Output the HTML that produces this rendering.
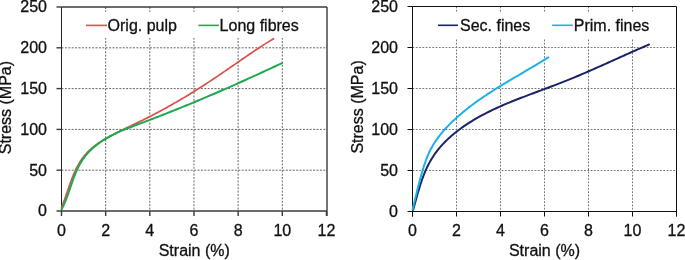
<!DOCTYPE html>
<html><head><meta charset="utf-8"><style>
html,body{margin:0;padding:0;background:#fff;}
svg{display:block;will-change:transform;filter:blur(0.3px);}
text{font-family:"Liberation Sans",sans-serif;font-size:16px;fill:#111;stroke:#111;stroke-width:0.3px;}
</style></head><body>
<svg width="685" height="260" viewBox="0 0 685 260">
<rect width="685" height="260" fill="#fff"/>
<line x1="105.66" y1="7.0" x2="105.66" y2="211.0" stroke="#666" stroke-width="1" stroke-dasharray="2 1.4"/>
<line x1="149.82" y1="7.0" x2="149.82" y2="211.0" stroke="#666" stroke-width="1" stroke-dasharray="2 1.4"/>
<line x1="193.98" y1="7.0" x2="193.98" y2="211.0" stroke="#666" stroke-width="1" stroke-dasharray="2 1.4"/>
<line x1="238.14" y1="7.0" x2="238.14" y2="211.0" stroke="#666" stroke-width="1" stroke-dasharray="2 1.4"/>
<line x1="282.30" y1="7.0" x2="282.30" y2="211.0" stroke="#666" stroke-width="1" stroke-dasharray="2 1.4"/>
<line x1="61.5" y1="170.20" x2="327.0" y2="170.20" stroke="#666" stroke-width="1" stroke-dasharray="2 1.4"/>
<line x1="61.5" y1="129.40" x2="327.0" y2="129.40" stroke="#666" stroke-width="1" stroke-dasharray="2 1.4"/>
<line x1="61.5" y1="88.60" x2="327.0" y2="88.60" stroke="#666" stroke-width="1" stroke-dasharray="2 1.4"/>
<line x1="61.5" y1="47.80" x2="327.0" y2="47.80" stroke="#666" stroke-width="1" stroke-dasharray="2 1.4"/>
<line x1="61.5" y1="7.0" x2="327.0" y2="7.0" stroke="#3a3a3a" stroke-width="1.4"/>
<line x1="61.5" y1="211.0" x2="327.0" y2="211.0" stroke="#3a3a3a" stroke-width="1.4"/>
<line x1="327.0" y1="7.0" x2="327.0" y2="216.0" stroke="#3a3a3a" stroke-width="1.4"/>
<line x1="61.5" y1="7.0" x2="61.5" y2="216.0" stroke="#222" stroke-width="1"/>
<line x1="56.5" y1="211.00" x2="61.5" y2="211.00" stroke="#3a3a3a" stroke-width="1.4"/>
<text x="47.0" y="216.40" text-anchor="end">0</text>
<line x1="56.5" y1="170.20" x2="61.5" y2="170.20" stroke="#3a3a3a" stroke-width="1.4"/>
<text x="47.0" y="175.60" text-anchor="end">50</text>
<line x1="56.5" y1="129.40" x2="61.5" y2="129.40" stroke="#3a3a3a" stroke-width="1.4"/>
<text x="47.0" y="134.80" text-anchor="end">100</text>
<line x1="56.5" y1="88.60" x2="61.5" y2="88.60" stroke="#3a3a3a" stroke-width="1.4"/>
<text x="47.0" y="94.00" text-anchor="end">150</text>
<line x1="56.5" y1="47.80" x2="61.5" y2="47.80" stroke="#3a3a3a" stroke-width="1.4"/>
<text x="47.0" y="53.20" text-anchor="end">200</text>
<line x1="56.5" y1="7.00" x2="61.5" y2="7.00" stroke="#3a3a3a" stroke-width="1.4"/>
<text x="47.0" y="12.40" text-anchor="end">250</text>
<line x1="61.50" y1="211.0" x2="61.50" y2="216.0" stroke="#3a3a3a" stroke-width="1.4"/>
<text x="61.50" y="236.0" text-anchor="middle">0</text>
<line x1="105.66" y1="211.0" x2="105.66" y2="216.0" stroke="#3a3a3a" stroke-width="1.4"/>
<text x="105.66" y="236.0" text-anchor="middle">2</text>
<line x1="149.82" y1="211.0" x2="149.82" y2="216.0" stroke="#3a3a3a" stroke-width="1.4"/>
<text x="149.82" y="236.0" text-anchor="middle">4</text>
<line x1="193.98" y1="211.0" x2="193.98" y2="216.0" stroke="#3a3a3a" stroke-width="1.4"/>
<text x="193.98" y="236.0" text-anchor="middle">6</text>
<line x1="238.14" y1="211.0" x2="238.14" y2="216.0" stroke="#3a3a3a" stroke-width="1.4"/>
<text x="238.14" y="236.0" text-anchor="middle">8</text>
<line x1="282.30" y1="211.0" x2="282.30" y2="216.0" stroke="#3a3a3a" stroke-width="1.4"/>
<text x="282.30" y="236.0" text-anchor="middle">10</text>
<line x1="326.46" y1="211.0" x2="326.46" y2="216.0" stroke="#3a3a3a" stroke-width="1.4"/>
<text x="326.46" y="236.0" text-anchor="middle">12</text>
<text x="194.25" y="256.0" text-anchor="middle">Strain (%)</text>
<text x="11.5" y="107.6" text-anchor="middle" transform="rotate(-90 11.5 107.6)">Stress (MPa)</text>
<line x1="456.50" y1="6.5" x2="456.50" y2="211.5" stroke="#777" stroke-width="1" stroke-dasharray="1.8 1.5"/>
<line x1="500.50" y1="6.5" x2="500.50" y2="211.5" stroke="#777" stroke-width="1" stroke-dasharray="1.8 1.5"/>
<line x1="544.50" y1="6.5" x2="544.50" y2="211.5" stroke="#777" stroke-width="1" stroke-dasharray="1.8 1.5"/>
<line x1="588.50" y1="6.5" x2="588.50" y2="211.5" stroke="#777" stroke-width="1" stroke-dasharray="1.8 1.5"/>
<line x1="632.50" y1="6.5" x2="632.50" y2="211.5" stroke="#777" stroke-width="1" stroke-dasharray="1.8 1.5"/>
<line x1="412.5" y1="170.50" x2="676.5" y2="170.50" stroke="#777" stroke-width="1" stroke-dasharray="1.8 1.5"/>
<line x1="412.5" y1="129.50" x2="676.5" y2="129.50" stroke="#777" stroke-width="1" stroke-dasharray="1.8 1.5"/>
<line x1="412.5" y1="88.50" x2="676.5" y2="88.50" stroke="#777" stroke-width="1" stroke-dasharray="1.8 1.5"/>
<line x1="412.5" y1="47.50" x2="676.5" y2="47.50" stroke="#777" stroke-width="1" stroke-dasharray="1.8 1.5"/>
<line x1="412.5" y1="6.5" x2="676.5" y2="6.5" stroke="#111" stroke-width="1"/>
<line x1="412.5" y1="211.5" x2="676.5" y2="211.5" stroke="#111" stroke-width="1"/>
<line x1="676.5" y1="6.5" x2="676.5" y2="216.5" stroke="#111" stroke-width="1"/>
<line x1="412.5" y1="6.5" x2="412.5" y2="216.5" stroke="#111" stroke-width="1"/>
<line x1="407.5" y1="211.50" x2="412.5" y2="211.50" stroke="#111" stroke-width="1"/>
<text x="398.0" y="216.80" text-anchor="end">0</text>
<line x1="407.5" y1="170.50" x2="412.5" y2="170.50" stroke="#111" stroke-width="1"/>
<text x="398.0" y="175.80" text-anchor="end">50</text>
<line x1="407.5" y1="129.50" x2="412.5" y2="129.50" stroke="#111" stroke-width="1"/>
<text x="398.0" y="134.80" text-anchor="end">100</text>
<line x1="407.5" y1="88.50" x2="412.5" y2="88.50" stroke="#111" stroke-width="1"/>
<text x="398.0" y="93.80" text-anchor="end">150</text>
<line x1="407.5" y1="47.50" x2="412.5" y2="47.50" stroke="#111" stroke-width="1"/>
<text x="398.0" y="52.80" text-anchor="end">200</text>
<line x1="407.5" y1="6.50" x2="412.5" y2="6.50" stroke="#111" stroke-width="1"/>
<text x="398.0" y="11.80" text-anchor="end">250</text>
<line x1="412.50" y1="211.5" x2="412.50" y2="216.5" stroke="#111" stroke-width="1"/>
<text x="412.50" y="236.0" text-anchor="middle">0</text>
<line x1="456.50" y1="211.5" x2="456.50" y2="216.5" stroke="#111" stroke-width="1"/>
<text x="456.50" y="236.0" text-anchor="middle">2</text>
<line x1="500.50" y1="211.5" x2="500.50" y2="216.5" stroke="#111" stroke-width="1"/>
<text x="500.50" y="236.0" text-anchor="middle">4</text>
<line x1="544.50" y1="211.5" x2="544.50" y2="216.5" stroke="#111" stroke-width="1"/>
<text x="544.50" y="236.0" text-anchor="middle">6</text>
<line x1="588.50" y1="211.5" x2="588.50" y2="216.5" stroke="#111" stroke-width="1"/>
<text x="588.50" y="236.0" text-anchor="middle">8</text>
<line x1="632.50" y1="211.5" x2="632.50" y2="216.5" stroke="#111" stroke-width="1"/>
<text x="632.50" y="236.0" text-anchor="middle">10</text>
<line x1="676.50" y1="211.5" x2="676.50" y2="216.5" stroke="#111" stroke-width="1"/>
<text x="676.50" y="236.0" text-anchor="middle">12</text>
<text x="544.50" y="256.0" text-anchor="middle">Strain (%)</text>
<text x="362.8" y="106.9" text-anchor="middle" transform="rotate(-90 362.8 106.9)">Stress (MPa)</text>

<polyline points="61.43,207.74 62.12,206.06 62.79,204.37 63.45,202.65 64.09,200.92 64.73,199.17 65.35,197.42 65.97,195.64 66.58,193.86 67.20,192.07 67.81,190.28 68.43,188.48 69.05,186.67 69.68,184.87 70.32,183.06 70.98,181.26 71.64,179.46 72.33,177.67 73.04,175.89 73.76,174.13 74.52,172.38 75.30,170.65 76.11,168.94 76.95,167.25 77.83,165.59 78.75,163.96 79.70,162.35 80.70,160.79 81.74,159.25 82.83,157.76 83.97,156.30 85.15,154.88 86.37,153.50 87.63,152.16 88.94,150.85 90.28,149.59 91.66,148.36 93.08,147.17 94.54,146.02 96.04,144.91 97.56,143.83 99.11,142.79 100.69,141.77 102.28,140.78 103.89,139.80 105.52,138.85 107.15,137.92 108.79,136.99 110.45,136.09 112.11,135.19 113.77,134.31 115.44,133.44 117.12,132.57 118.81,131.72 120.50,130.88 122.19,130.04 123.88,129.20 125.58,128.38 127.29,127.55 128.99,126.73 130.69,125.91 132.40,125.10 134.10,124.28 135.81,123.46 137.51,122.64 139.21,121.82 140.91,120.99 142.61,120.16 144.30,119.32 145.99,118.48 147.67,117.63 149.35,116.77 151.03,115.91 152.71,115.05 154.38,114.18 156.05,113.30 157.71,112.42 159.37,111.53 161.03,110.64 162.69,109.74 164.34,108.84 165.99,107.93 167.64,107.02 169.28,106.10 170.92,105.18 172.56,104.25 174.19,103.32 175.82,102.38 177.45,101.44 179.07,100.49 180.70,99.54 182.31,98.58 183.93,97.62 185.54,96.66 187.16,95.69 188.76,94.71 190.37,93.73 191.97,92.75 193.57,91.76 195.17,90.76 196.76,89.77 198.35,88.76 199.94,87.76 201.53,86.75 203.11,85.73 204.70,84.71 206.27,83.69 207.85,82.66 209.42,81.63 211.00,80.60 212.57,79.56 214.13,78.51 215.70,77.47 217.26,76.41 218.82,75.36 220.38,74.30 221.93,73.24 223.49,72.17 225.04,71.11 226.59,70.04 228.14,68.97 229.69,67.89 231.24,66.82 232.79,65.74 234.34,64.67 235.89,63.59 237.44,62.52 238.98,61.45 240.53,60.37 242.08,59.30 243.64,58.23 245.19,57.16 246.74,56.10 248.30,55.03 249.85,53.97 251.41,52.92 252.98,51.87 254.54,50.82 256.11,49.77 257.68,48.73 259.25,47.70 260.83,46.67 262.41,45.65 263.99,44.64 265.58,43.63 267.17,42.62 268.76,41.63 270.36,40.64 271.97,39.66 273.58,38.69" fill="none" stroke="#D9504C" stroke-width="1.7" stroke-linejoin="round" stroke-linecap="round"/>
<polyline points="61.64,209.19 62.46,207.62 63.25,206.00 64.01,204.37 64.74,202.70 65.44,201.01 66.13,199.30 66.79,197.57 67.44,195.82 68.08,194.06 68.70,192.28 69.32,190.50 69.94,188.71 70.55,186.92 71.17,185.12 71.79,183.32 72.42,181.53 73.06,179.74 73.71,177.96 74.39,176.19 75.08,174.43 75.79,172.69 76.53,170.96 77.30,169.25 78.10,167.57 78.94,165.91 79.81,164.28 80.73,162.68 81.69,161.11 82.69,159.57 83.75,158.07 84.85,156.61 86.00,155.18 87.19,153.79 88.42,152.43 89.69,151.10 91.00,149.82 92.34,148.56 93.72,147.34 95.13,146.15 96.57,144.99 98.04,143.87 99.53,142.78 101.05,141.72 102.59,140.69 104.15,139.69 105.73,138.72 107.33,137.79 108.95,136.88 110.57,136.00 112.22,135.14 113.88,134.31 115.55,133.49 117.23,132.70 118.92,131.93 120.63,131.18 122.34,130.44 124.06,129.72 125.79,129.01 127.53,128.32 129.27,127.63 131.01,126.95 132.76,126.28 134.52,125.62 136.27,124.96 138.03,124.30 139.79,123.65 141.54,122.99 143.30,122.33 145.05,121.67 146.80,121.01 148.56,120.35 150.30,119.68 152.05,119.02 153.80,118.35 155.54,117.67 157.29,117.00 159.03,116.33 160.77,115.65 162.51,114.97 164.25,114.29 165.99,113.61 167.72,112.92 169.46,112.23 171.19,111.54 172.92,110.85 174.65,110.16 176.38,109.47 178.11,108.77 179.84,108.07 181.56,107.37 183.29,106.67 185.01,105.97 186.74,105.26 188.46,104.55 190.18,103.85 191.90,103.13 193.62,102.42 195.34,101.71 197.05,100.99 198.77,100.27 200.49,99.55 202.20,98.83 203.91,98.11 205.63,97.38 207.34,96.66 209.05,95.93 210.76,95.20 212.47,94.47 214.18,93.73 215.88,93.00 217.59,92.26 219.30,91.52 221.00,90.78 222.71,90.04 224.41,89.29 226.12,88.55 227.82,87.80 229.52,87.05 231.23,86.30 232.93,85.55 234.63,84.80 236.33,84.04 238.03,83.28 239.73,82.53 241.43,81.77 243.13,81.00 244.83,80.24 246.52,79.48 248.22,78.71 249.92,77.94 251.62,77.17 253.31,76.40 255.01,75.63 256.71,74.85 258.40,74.08 260.10,73.30 261.79,72.52 263.49,71.74 265.18,70.96 266.88,70.18 268.57,69.39 270.27,68.61 271.96,67.82 273.66,67.03 275.35,66.24 277.05,65.45 278.74,64.66 280.44,63.86 282.13,63.07" fill="none" stroke="#1FAA4F" stroke-width="2" stroke-linejoin="round" stroke-linecap="round"/>
<polyline points="413.20,209.72 413.74,207.79 414.27,205.86 414.80,203.91 415.33,201.95 415.87,199.99 416.42,198.02 416.97,196.04 417.52,194.07 418.09,192.09 418.67,190.11 419.27,188.13 419.88,186.16 420.51,184.20 421.15,182.24 421.82,180.29 422.51,178.35 423.22,176.42 423.96,174.50 424.73,172.61 425.52,170.72 426.35,168.86 427.21,167.02 428.10,165.20 429.02,163.40 429.99,161.62 430.99,159.88 432.04,158.16 433.12,156.47 434.24,154.81 435.40,153.17 436.60,151.56 437.83,149.98 439.09,148.43 440.39,146.90 441.72,145.39 443.08,143.91 444.46,142.46 445.88,141.03 447.33,139.63 448.80,138.25 450.29,136.89 451.81,135.56 453.36,134.25 454.92,132.96 456.51,131.69 458.12,130.45 459.74,129.23 461.38,128.03 463.04,126.85 464.72,125.70 466.40,124.56 468.11,123.45 469.82,122.35 471.55,121.28 473.28,120.22 475.03,119.18 476.79,118.16 478.55,117.16 480.33,116.18 482.11,115.21 483.91,114.26 485.71,113.32 487.52,112.40 489.34,111.49 491.17,110.60 493.00,109.72 494.84,108.85 496.69,108.00 498.55,107.16 500.41,106.32 502.27,105.51 504.15,104.70 506.02,103.90 507.90,103.11 509.79,102.32 511.68,101.55 513.58,100.79 515.48,100.03 517.38,99.28 519.28,98.53 521.19,97.79 523.10,97.06 525.01,96.33 526.93,95.60 528.84,94.88 530.76,94.16 532.68,93.44 534.60,92.73 536.52,92.01 538.44,91.30 540.36,90.59 542.27,89.88 544.19,89.17 546.11,88.45 548.02,87.74 549.94,87.02 551.85,86.30 553.75,85.58 555.66,84.85 557.56,84.12 559.46,83.38 561.36,82.64 563.25,81.89 565.14,81.14 567.02,80.38 568.90,79.62 570.78,78.86 572.66,78.08 574.53,77.31 576.40,76.53 578.27,75.74 580.13,74.96 582.00,74.16 583.86,73.37 585.72,72.57 587.58,71.77 589.43,70.96 591.29,70.15 593.14,69.34 595.00,68.53 596.85,67.71 598.70,66.90 600.55,66.07 602.40,65.25 604.25,64.43 606.10,63.60 607.95,62.77 609.80,61.94 611.65,61.11 613.50,60.28 615.36,59.45 617.21,58.62 619.06,57.78 620.92,56.95 622.77,56.12 624.63,55.28 626.49,54.45 628.35,53.61 630.22,52.78 632.08,51.95 633.95,51.12 635.82,50.28 637.69,49.45 639.57,48.63 641.44,47.80 643.33,46.97 645.21,46.15 647.10,45.32 648.99,44.50" fill="none" stroke="#1A2466" stroke-width="2" stroke-linejoin="round" stroke-linecap="round"/>
<polyline points="412.64,209.51 412.97,208.10 413.31,206.70 413.64,205.30 413.97,203.90 414.31,202.50 414.64,201.11 414.97,199.71 415.31,198.32 415.64,196.93 415.98,195.54 416.32,194.15 416.66,192.76 417.00,191.37 417.34,189.99 417.69,188.60 418.04,187.21 418.39,185.83 418.75,184.44 419.11,183.05 419.47,181.66 419.84,180.27 420.21,178.88 420.59,177.49 420.97,176.10 421.36,174.71 421.75,173.31 422.15,171.92 422.56,170.52 422.98,169.13 423.40,167.74 423.84,166.35 424.29,164.96 424.75,163.58 425.22,162.21 425.71,160.84 426.21,159.48 426.73,158.13 427.26,156.78 427.81,155.45 428.39,154.12 428.98,152.81 429.59,151.51 430.22,150.22 430.88,148.95 431.55,147.69 432.25,146.44 432.97,145.21 433.72,143.99 434.48,142.79 435.26,141.60 436.06,140.42 436.88,139.25 437.71,138.10 438.56,136.95 439.43,135.82 440.32,134.70 441.21,133.59 442.13,132.50 443.05,131.41 443.99,130.34 444.95,129.27 445.91,128.21 446.89,127.17 447.87,126.13 448.87,125.11 449.87,124.09 450.89,123.08 451.91,122.08 452.94,121.09 453.98,120.11 455.03,119.14 456.08,118.17 457.14,117.21 458.21,116.26 459.28,115.32 460.36,114.38 461.45,113.46 462.55,112.54 463.65,111.62 464.75,110.72 465.87,109.82 466.99,108.93 468.11,108.04 469.24,107.16 470.38,106.29 471.52,105.43 472.67,104.57 473.82,103.71 474.98,102.86 476.15,102.02 477.31,101.18 478.49,100.35 479.66,99.52 480.84,98.70 482.03,97.89 483.22,97.08 484.41,96.27 485.61,95.47 486.81,94.67 488.01,93.87 489.22,93.09 490.43,92.30 491.64,91.52 492.86,90.74 494.08,89.97 495.30,89.20 496.52,88.43 497.75,87.67 498.98,86.91 500.21,86.15 501.44,85.39 502.67,84.64 503.91,83.89 505.15,83.14 506.38,82.40 507.62,81.65 508.87,80.91 510.11,80.17 511.35,79.44 512.59,78.70 513.83,77.97 515.08,77.23 516.32,76.50 517.57,75.77 518.81,75.04 520.05,74.31 521.30,73.58 522.54,72.85 523.78,72.12 525.02,71.40 526.26,70.67 527.50,69.94 528.74,69.21 529.97,68.48 531.21,67.76 532.44,67.03 533.67,66.30 534.90,65.57 536.13,64.83 537.35,64.10 538.57,63.37 539.79,62.63 541.01,61.89 542.22,61.15 543.44,60.41 544.64,59.67 545.85,58.92 547.05,58.17 548.25,57.42" fill="none" stroke="#1EB0E8" stroke-width="2" stroke-linejoin="round" stroke-linecap="round"/>


<rect x="68" y="12" width="250" height="26" fill="#fff"/>
<rect x="419" y="12" width="250" height="26" fill="#fff"/>
<line x1="86" y1="25.4" x2="107" y2="25.4" stroke="#D9504C" stroke-width="1.6"/>
<text x="107.6" y="30.9">Orig. pulp</text>
<line x1="198.4" y1="25.4" x2="219" y2="25.4" stroke="#1FAA4F" stroke-width="1.6"/>
<text x="219.6" y="30.9">Long fibres</text>
<line x1="438" y1="25.3" x2="458" y2="25.3" stroke="#1A2466" stroke-width="1.6"/>
<text x="460.0" y="30.9">Sec. fines</text>
<line x1="552.1" y1="25.3" x2="572.8" y2="25.3" stroke="#1EB0E8" stroke-width="1.6"/>
<text x="573.8" y="30.9">Prim. fines</text>

</svg>
</body></html>
